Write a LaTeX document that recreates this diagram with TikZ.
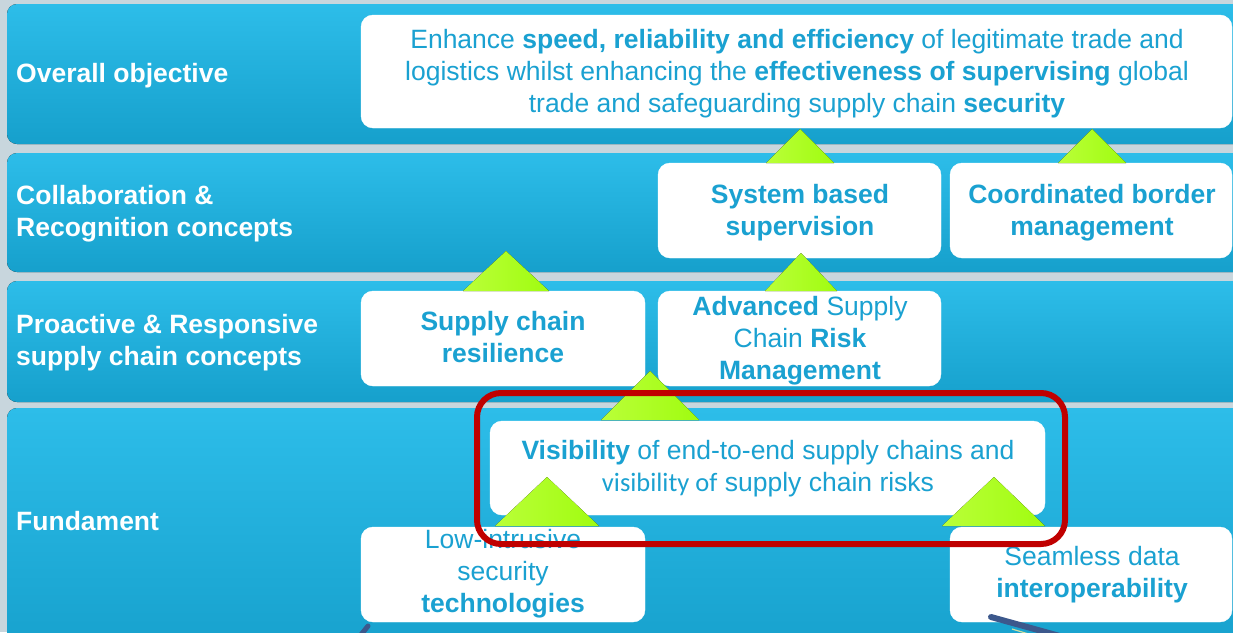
\documentclass[tikz,border=0pt]{standalone}
\usepackage{fontspec}
\setmainfont{Liberation Sans}
\newfontfamily\carl{Carlito}
\definecolor{bg}{RGB}{200,214,221}
\definecolor{bandtop}{RGB}{45,189,233}
\definecolor{bandbot}{RGB}{22,160,204}
\definecolor{txtblue}{RGB}{26,161,209}
\definecolor{limeL}{RGB}{186,255,56}
\definecolor{limeR}{RGB}{160,252,16}
\definecolor{redline}{RGB}{192,0,0}
\definecolor{arrowblue}{RGB}{60,88,140}
\newcommand{\fl}{\rule{0pt}{20pt}}
\begin{document}
\begin{tikzpicture}[x=1pt,y=-1pt,
  band/.style={top color=bandtop,bottom color=bandbot,rounded corners=10pt,draw=none},
  wbox/.style={fill=white,draw=white,rounded corners=12pt,inner sep=0pt},
  lvltext/.style={text=white,font=\fontsize{26.5}{32}\selectfont\bfseries,align=left,anchor=north west,inner sep=0pt},
  boxtext/.style={text=txtblue,font=\fontsize{26.5}{32}\selectfont,align=center,anchor=north,inner sep=0pt},
  tri/.style={left color=limeL,right color=limeR,draw=none},
  hlframe/.style={draw=redline,line width=6pt,rounded corners=24pt,inner sep=0pt},
  stub/.style={draw=arrowblue,line width=6pt,line cap=round}
]
\useasboundingbox (0,0) rectangle (1233,632);
\clip (0,0) rectangle (1233,632);
% background
\fill[bg] (0,0) rectangle (1233,632);
% bands
\fill[band] (7,4) rectangle (1270,144);
\fill[band] (7,153) rectangle (1270,272);
\fill[band] (7,281) rectangle (1270,402);
\fill[band] (7,408) rectangle (1270,660);
% level labels
\node[lvltext] (l1) at (16,62) {\fl Overall objective};
\node[lvltext] (l2) at (16,184) {\fl Collaboration \&\\Recognition concepts};
\node[lvltext] (l3) at (16,313) {\fl Proactive \& Responsive\\supply chain concepts};
\node[lvltext] (l4) at (16,510) {\fl Fundament};
% white boxes
\node[wbox,minimum width=871pt,minimum height=113pt] (obj) at (796.5,71.5) {};
\node[wbox,minimum width=283pt,minimum height=95pt] (sys) at (799.5,210.5) {};
\node[wbox,minimum width=282pt,minimum height=95pt] (cbm) at (1091,210.5) {};
\node[wbox,minimum width=284pt,minimum height=95pt] (res) at (503,338.5) {};
\node[wbox,minimum width=283pt,minimum height=95pt] (adv) at (799.5,338.5) {};
\node[wbox,minimum width=555pt,minimum height=94pt] (vis) at (767.5,468) {};
\node[wbox,minimum width=284pt,minimum height=95pt] (low) at (503,574.5) {};
\node[wbox,minimum width=282pt,minimum height=95pt] (sea) at (1091,574.5) {};
% box texts
\node[boxtext] (obj-t) at (797,28) {\fl Enhance \textbf{speed, reliability and efficiency} of legitimate trade and\\logistics whilst enhancing the \textbf{effectiveness of supervising} global\\trade and safeguarding supply chain \textbf{security}};
\node[boxtext,font=\fontsize{26.5}{32}\selectfont\bfseries] (sys-t) at (800,183) {\fl System based\\supervision};
\node[boxtext,font=\fontsize{26.5}{32}\selectfont\bfseries] (cbm-t) at (1092,183) {\fl Coordinated border\\management};
\node[boxtext,font=\fontsize{26.5}{32}\selectfont\bfseries] (res-t) at (503,310) {\fl Supply chain\\resilience};
\node[boxtext] (adv-t) at (800,295) {\fl \textbf{Advanced} Supply\\Chain \textbf{Risk}\\\textbf{Management}};
\node[boxtext] (vis-t) at (768,439) {\fl \textbf{Visibility} of end-to-end supply chains and\\{\carl visibility of} supply chain risks};
\node[boxtext] (low-t) at (503,528) {\fl Low-intrusive\\security\\\textbf{technologies}};
\node[boxtext] (sea-t) at (1092,545) {\fl Seamless data\\\textbf{interoperability}};
% green triangles (links between levels)
\fill[tri] (800,129) -- (834,163) -- (766,163) -- cycle;
\fill[tri] (1092,129) -- (1126,163) -- (1058,163) -- cycle;
\fill[tri] (506,251) -- (549,291) -- (463,291) -- cycle;
\fill[tri] (801,253) -- (837,291) -- (765,291) -- cycle;
\fill[tri] (650,371) -- (699,420) -- (601,420) -- cycle;
\fill[tri] (547,477) -- (599,526) -- (495,526) -- cycle;
\fill[tri] (994,477) -- (1045,526) -- (942,526) -- cycle;
% highlight frame
\node[hlframe,minimum width=588pt,minimum height=151pt] (hl) at (771,468.5) {};
% cut-off arrows at the bottom
\coordinate (a1s) at (360,636);
\coordinate (a1e) at (368,626);
\draw[stub,line width=5pt] (a1s) -- (a1e);
\coordinate (a2s) at (991,617);
\coordinate (a2e) at (1085,643);
\draw[stub] (a2s) -- (a2e);
\draw[draw={rgb,255:red,205;green,222;blue,160},line width=1.2pt] (1012,629) -- (1032,635);
\end{tikzpicture}
\end{document}
